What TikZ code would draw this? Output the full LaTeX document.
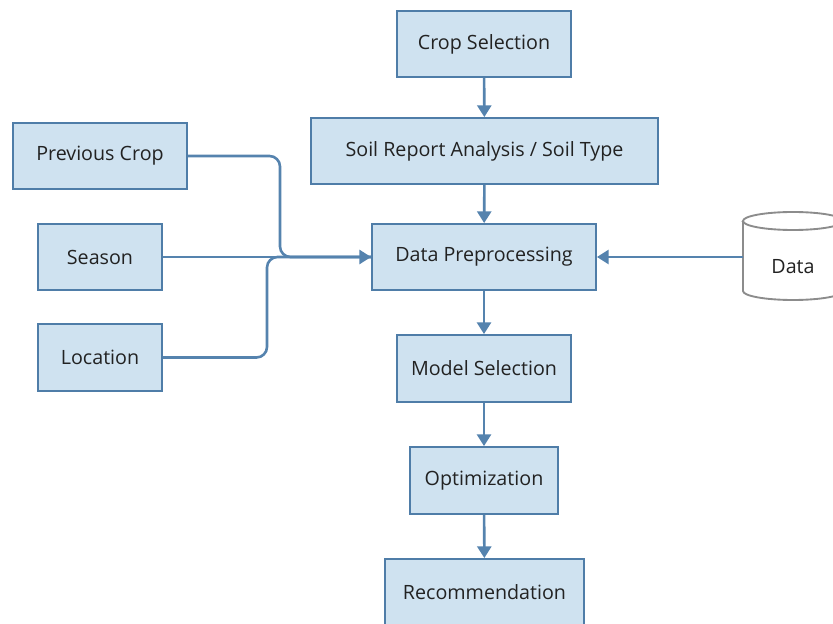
\documentclass[tikz,border=0pt]{standalone}
\usepackage{fontspec}
\setmainfont{Open Sans}
\usetikzlibrary{arrows.meta}
\definecolor{boxfill}{HTML}{CFE2F0}
\definecolor{boxline}{HTML}{4F7DA8}
\definecolor{flowline}{HTML}{5583AE}
\definecolor{txt}{HTML}{222222}
\tikzset{
  stage/.style={draw=boxline, line width=1.6pt, fill=boxfill, inner sep=0pt,
    minimum height=1.98cm, text=txt, font=\fontsize{16.8}{20}\selectfont},
  flow/.style={draw=flowline, line width=2.2pt, -{Triangle[length=10pt,width=12pt]}},
  joint/.style={draw=flowline, line width=2.2pt, rounded corners=9pt},
}
\begin{document}
\begin{tikzpicture}[x=0.03cm, y=-0.03cm]
		%%%%% FRAME %%%%%
		\useasboundingbox (0,0) rectangle (833,624);
		\clip (0,0) rectangle (833,624);
		
		%%%%% MAIN COLUMN %%%%%
		\node[stage, minimum width=5.22cm] (crop) at (484,44) {Crop Selection};
		\node[stage, minimum width=10.41cm] (soil) at (484.5,151) {Soil Report Analysis / Soil Type};
		\node[stage, minimum width=6.72cm] (pre) at (484,257) {Data Preprocessing};
		\node[stage, minimum width=5.22cm, minimum height=2.01cm] (model) at (484,368.5) {Model Selection};
		\node[stage, minimum width=4.44cm, minimum height=2.01cm] (opt) at (484,480.5) {Optimization};
		\node[stage, minimum width=5.97cm] (rec) at (484.5,592) {Recommendation};
		
		%%%%% INPUTS %%%%%
		\node[stage, minimum width=5.22cm] (prev) at (100,156) {Previous Crop};
		\node[stage, minimum width=3.72cm] (season) at (100,257) {Season};
		\node[stage, minimum width=3.72cm, minimum height=2.01cm] (loc) at (100,357.5) {Location};
		
		%%%%% DATA STORE %%%%%
		\draw[draw=black!45, line width=1.6pt, fill=white] (743,221) -- (743,291)
		  arc (180:360:1.5cm and 0.27cm) -- (843,221) arc (0:180:1.5cm and 0.27cm) -- cycle;
		\draw[draw=black!45, line width=1.6pt] (743,221) arc (180:360:1.5cm and 0.27cm);
		\coordinate (store) at (743,257);
		\node[text=txt, font=\fontsize{16.8}{20}\selectfont] (data) at (793,267) {Data};
		
		%%%%% CONNECTORS %%%%%
		\draw[flow] (crop) -- (soil);
		\draw[flow] (soil) -- (pre);
		\draw[flow] (pre) -- (model);
		\draw[flow] (model) -- (opt);
		\draw[flow] (opt) -- (rec);
		\draw[joint] (prev.east) -- (280,156) -- (280,257) -- (pre.west);
		\draw[joint] (loc.east) -- (267,357.5) -- (267,257) -- (pre.west);
		\draw[flow] (season.east) -- (pre.west);
		\draw[flow] (store) -- (pre.east);
		%%%%% END %%%%%
	\end{tikzpicture}
\end{document}
